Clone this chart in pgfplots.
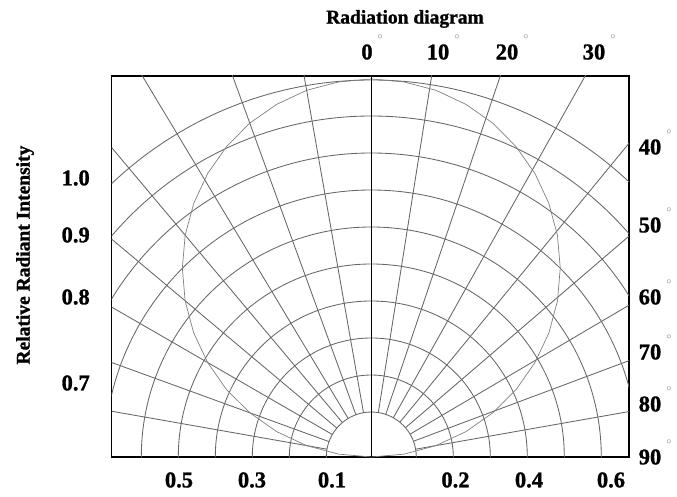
\documentclass[border=0pt]{standalone}
\usepackage{pgfplots}
\pgfplotsset{compat=1.18}
\usepackage{pgfplotstable}
\usepackage{fontspec}
\setmainfont{Liberation Serif}[BoldFeatures={FakeBold=1.2}]
\definecolor{gridc}{gray}{0.40}
\definecolor{patc}{gray}{0.5}
\definecolor{degc}{gray}{0.62}
\newcommand{\dg}{\rlap{\smash{\raisebox{16pt}{\hspace{5pt}\textcolor{degc}{\mdseries\fontsize{13}{13}\selectfont °}}}}}
\newcommand{\tfont}{\fontsize{22.5}{25}\selectfont\bfseries}

% relative radiant intensity vs. angle (deg)
\pgfplotstableread{
ang I
-90 0.000
-85 0.087
-80 0.174
-75 0.259
-70 0.342
-65 0.423
-60 0.500
-55 0.574
-50 0.643
-45 0.707
-40 0.766
-35 0.819
-30 0.866
-25 0.906
-20 0.940
-15 0.966
-10 0.985
-5 0.996
0 1.000
5 0.996
10 0.985
15 0.966
20 0.940
25 0.906
30 0.866
35 0.819
40 0.766
45 0.707
50 0.643
55 0.574
60 0.500
65 0.423
70 0.342
75 0.259
80 0.174
85 0.087
90 0.000
}\radtab

\begin{document}
\begin{tikzpicture}
\begin{axis}[
  x=1pt, y=1pt,
  xmin=-259.6, xmax=257.7, ymin=0, ymax=381,
  axis line style={line width=1.6pt},
  major tick length=0pt,
  xtick={-192.3,-119.3,-39.3,84.2,157.7,239.7},
  xticklabels={0.5,0.3,0.1,0.2,0.4,0.6},
  ytick={279,222,160,74},
  yticklabels={1.0,0.9,0.8,0.7},
  xticklabel style={anchor=center, yshift=-23pt},
  yticklabel style={anchor=center, xshift=-36pt},
  tick label style={font=\tfont},
  /pgf/number format/assume math mode=true,
  ylabel={Relative Radiant Intensity},
  ylabel style={at={(rel axis cs:-0.1676,0.53)}, anchor=center, font=\fontsize{19.5}{21}\selectfont\bfseries},
  title={Radiation diagram},
  title style={at={(rel axis cs:0.567,1.134)}, anchor=center, font=\fontsize{19.5}{22}\selectfont\bfseries},
  clip=true,
]
% polar grid: circles
\pgfplotsinvokeforeach{45,82,119,156,193,230,267,304,341,377}{
  \draw[gridc, line width=0.85pt] (axis cs:0,0) circle[radius=#1];
}
% polar grid: radial lines
\pgfplotsinvokeforeach{-80,-70,-60,-50,-40,-31,-20,-10,9,18.7,29.3,39.4,49.4,59.5,69.5,80}{
  \draw[gridc, line width=0.85pt] (axis cs:{45*sin(#1)},{45*cos(#1)}) -- (axis cs:{800*sin(#1)},{800*cos(#1)});
}
% radiation pattern
\addplot[patc, line width=0.7pt, no marks] table[
  x expr={378*\thisrow{I}*sin(\thisrow{ang})},
  y expr={378*\thisrow{I}*cos(\thisrow{ang})}] {\radtab};
% 0 deg axis
\draw[black, line width=1.5pt] (axis cs:0,0) -- (axis cs:0,381);
\coordinate (BL) at (axis cs:-371.3,-39);
\coordinate (TR) at (axis cs:305.7,457);
\end{axis}
\begin{axis}[
  x=1pt, y=1pt,
  xmin=-259.6, xmax=257.7, ymin=0, ymax=381,
  axis line style={draw=none},
  major tick length=0pt,
  xticklabel pos=right, yticklabel pos=right,
  xtick={-4.3,66.7,135.7,222.7},
  xticklabels={0\dg,10\dg,20\dg,30\dg},
  ytick={310,232,160,105,53,0},
  yticklabels={40\dg,50\dg,60\dg,70\dg,80\dg,90\dg},
  xticklabel style={anchor=center, yshift=24pt},
  yticklabel style={anchor=center, xshift=21pt},
  tick label style={font=\tfont},
  /pgf/number format/assume math mode=true,
]
\end{axis}
\pgfresetboundingbox
\useasboundingbox (BL) rectangle (TR);
\end{tikzpicture}
\end{document}
